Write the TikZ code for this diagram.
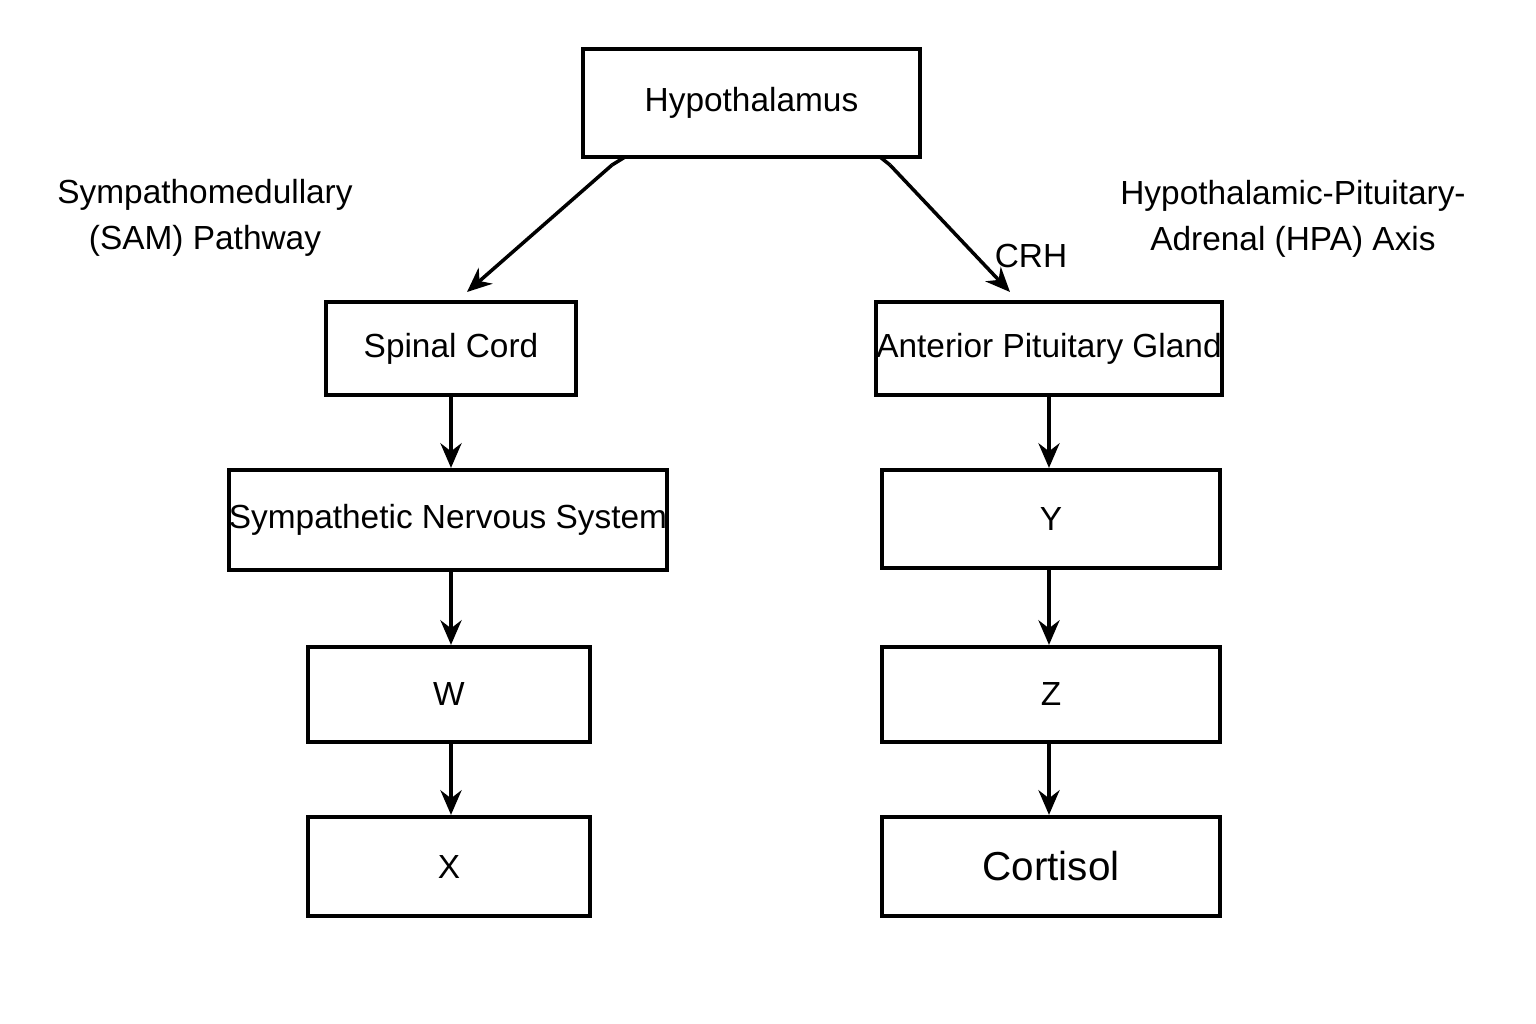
\documentclass[tikz,border=0pt]{standalone}
\usepackage{fontspec}
\setmainfont{Liberation Sans}
\usetikzlibrary{arrows.meta}
\begin{document}
\begin{tikzpicture}[x=0.01cm,y=-0.01cm,
  box/.style={draw,line width=1.2pt,inner sep=0pt,font=\fontsize{9.5}{11}\selectfont},
  arr/.style={-{Stealth[length=7pt,width=6pt]},line width=1pt},
  lbl/.style={font=\fontsize{9.5}{13}\selectfont,align=center}]
\useasboundingbox (0,0) rectangle (1536,1024);
\fill[white] (0,0) rectangle (1536,1024);
\newcommand{\bx}[6]{\node[box,minimum width=#4*0.01cm,minimum height=#5*0.01cm] (#1) at (#2,#3) {#6};}
\bx{hyp}{751.5}{103}{337}{108}{Hypothalamus}
\bx{sc}{451}{348.5}{250}{93}{Spinal Cord}
\bx{sns}{448}{520}{422}{100}{Sympathetic Nervous System}
\bx{w}{449}{694.5}{282}{95}{W}
\bx{x}{449}{866.5}{282}{99}{X}
\bx{apg}{1049}{348.5}{342}{93}{Anterior Pituitary Gland}
\bx{y}{1051}{519}{338}{98}{Y}
\bx{z}{1051}{694.5}{338}{95}{Z}
\node[box,draw=none,font=\fontsize{11.5}{13}\selectfont] at (1051,866.5) {};
\node[box,minimum width=3.38cm,minimum height=0.99cm,font=\fontsize{11.5}{13}\selectfont] (cor) at (1051,866.5) {Cortisol};
\coordinate (l0) at (625,157);
\coordinate (l1) at (612,165);
\coordinate (l2) at (467,292);
\coordinate (r0) at (880,157);
\coordinate (r1) at (890,165);
\coordinate (r2) at (1010,292);
\draw[line width=1pt] (l0) -- (l1);
\draw[arr] (l1) -- (l2);
\draw[line width=1pt] (r0) -- (r1);
\draw[arr] (r1) -- (r2);
\draw[arr] (sc.south) -- (sns.north -| sc.south);
\draw[arr] (sns.south -| sc.south) -- (w.north -| sc.south);
\draw[arr] (w.south -| sc.south) -- (x.north -| sc.south);
\draw[arr] (apg.south) -- (y.north -| apg.south);
\draw[arr] (y.south -| apg.south) -- (z.north -| apg.south);
\draw[arr] (z.south -| apg.south) -- (cor.north -| apg.south);
\node[lbl] (crh) at (1031,256) {CRH};
\node[lbl] (sam) at (205,218) {Sympathomedullary\\(SAM) Pathway};
\node[lbl] (hpa) at (1293,219) {Hypothalamic-Pituitary-\\Adrenal (HPA) Axis};
\end{tikzpicture}
\end{document}
